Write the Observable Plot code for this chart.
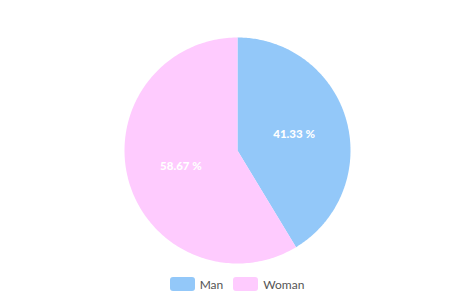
<!DOCTYPE html>
<html>
<head>
<meta charset="utf-8">
<script src="https://cdn.jsdelivr.net/npm/d3@7"></script>
<script src="https://cdn.jsdelivr.net/npm/@observablehq/plot@0.6"></script>
<style>
  body { margin: 0; background: #fff; font-family: Lato, "Open Sans", sans-serif; }
  #chart { width: 474px; }
  .legend { display: flex; justify-content: center; align-items: center; height: 32px; font-size: 12px; color: #555; }
  .legend .item { display: flex; align-items: center; margin: 0 5px; }
  .legend .sw { width: 25px; height: 14px; border-radius: 3px; margin-right: 5px; }
</style>
</head>
<body>
<div id="chart"></div>
<script>
const categories = ["Man", "Woman"];
const values = [41.33, 58.67];
const colors = ["#93c8f9", "#fecbfe"];

const pie = d3.pie().sort(null).value(d => d.value);
const arcs = pie(categories.map((c, i) => ({category: c, value: values[i]})));

const pts = [];
const labels = [];
for (const a of arcs) {
  const c = a.data.category;
  pts.push({category: c, x: 0, y: 0});
  const n = 200;
  for (let k = 0; k <= n; k++) {
    const t = a.startAngle + (a.endAngle - a.startAngle) * k / n;
    pts.push({category: c, x: Math.sin(t), y: Math.cos(t)});
  }
  pts.push({category: c, x: 0, y: 0});
  const m = (a.startAngle + a.endAngle) / 2;
  labels.push({category: c, x: 0.52 * Math.sin(m), y: 0.52 * Math.cos(m), text: a.data.value.toFixed(2) + " %"});
}

const R = 113, W = 474, H = 268, CX = 237, CY = 150;
const plot = Plot.plot({
  width: W, height: H,
  margin: 0,
  x: {domain: [-CX / R, (W - CX) / R], range: [0, W], axis: null},
  y: {domain: [-(H - CY) / R, CY / R], range: [H, 0], axis: null},
  color: {domain: categories, range: colors},
  style: {fontFamily: "Lato, 'Open Sans', sans-serif"},
  marks: [
    Plot.line(pts, {x: "x", y: "y", z: "category", fill: "category", stroke: null, curve: "linear"}),
    Plot.text(labels, {x: "x", y: "y", text: "text", fill: "white", fontSize: 11.5, fontWeight: 900})
  ]
});
document.getElementById("chart").appendChild(plot);

const leg = document.createElement("div");
leg.className = "legend";
categories.forEach((c, i) => {
  const it = document.createElement("div");
  it.className = "item";
  const sw = document.createElement("div");
  sw.className = "sw";
  sw.style.background = colors[i];
  const tx = document.createElement("span");
  tx.textContent = c;
  it.appendChild(sw); it.appendChild(tx);
  leg.appendChild(it);
});
document.getElementById("chart").appendChild(leg);
</script>
</body>
</html>
